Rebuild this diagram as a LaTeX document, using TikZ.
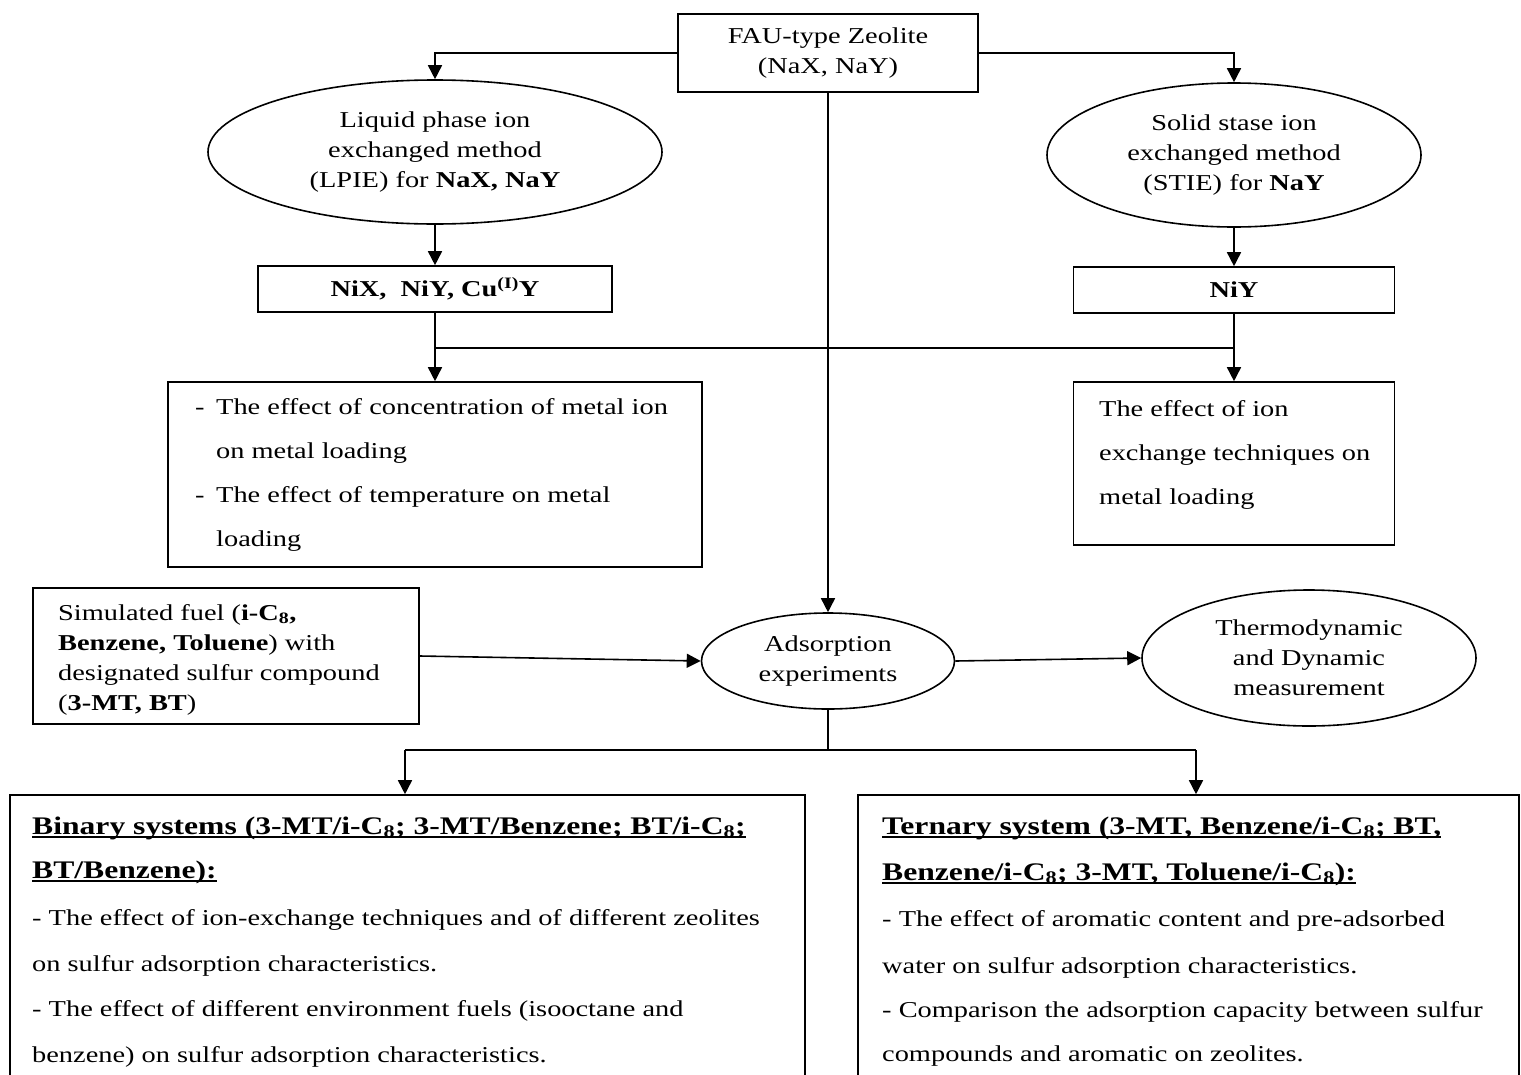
\documentclass[tikz,border=0pt]{standalone}
\usepackage{fontspec}
\setmainfont{Liberation Serif}[FakeStretch=1.25]
\usetikzlibrary{shapes.geometric,arrows.meta}
\newsavebox\hulbox
\newcommand\hul[1]{\sbox\hulbox{#1}\rlap{\rule[-4pt]{\wd\hulbox}{1.6pt}}\usebox\hulbox}
\newcommand\fs{\fontsize{22.7}{30}\selectfont}
\newcommand\fsh{\fontsize{25.3}{30}\selectfont\bfseries}
\begin{document}
\begin{tikzpicture}[x=1pt,y=-1pt,
  ln/.style={line width=1.6pt},
  arr/.style={line width=1.6pt,-{Triangle[length=14pt,width=14pt]}},
  box/.style={draw,line width=1.6pt,rectangle,inner sep=0pt,font=\fs,align=center},
  oval/.style={draw,line width=1.6pt,ellipse,inner sep=0pt,font=\fs,align=center},
  tl/.style={anchor=base west,inner sep=0pt,font=\fs},
  th/.style={anchor=base west,inner sep=0pt,font=\fsh}]
\useasboundingbox[fill=white] (0,0) rectangle (1521,1074);

% top
\node[box,minimum width=300pt,minimum height=78pt] (fau) at (828,53) {FAU-type Zeolite\\(NaX, NaY)};
\node[oval,minimum width=454pt,minimum height=144pt] (lpie) at (435,152) {Liquid phase ion\\exchanged method\\(LPIE) for \textbf{NaX, NaY}};
\node[oval,minimum width=374pt,minimum height=144pt] (stie) at (1234,155) {Solid stase ion\\exchanged method\\(STIE) for \textbf{NaY}};
\node[box,minimum width=354pt,minimum height=46pt] (nix) at (435,289) {\textbf{NiX,\ \ NiY, Cu\textsuperscript{(I)}Y}};
\node[box,minimum width=321pt,minimum height=46pt] (niy) at (1234,290) {\textbf{NiY}};

% effect boxes
\node[box,minimum width=534pt,minimum height=185pt] (lpeff) at (435,474.5) {};
\node[tl] (l1a) at (195,414) {-};
\node[tl] (l1) at (216,414) {The effect of concentration of metal ion};
\node[tl] (l2) at (216,458) {on metal loading};
\node[tl] (l3a) at (195,502) {-};
\node[tl] (l3) at (216,502) {The effect of temperature on metal};
\node[tl] (l4) at (216,546) {loading};

\node[box,minimum width=321pt,minimum height=163pt] (steff) at (1234,463.5) {};
\node[tl] (r1) at (1099,416) {The effect of ion};
\node[tl] (r2) at (1099,460) {exchange techniques on};
\node[tl] (r3) at (1099,504) {metal loading};

% middle
\node[box,minimum width=386pt,minimum height=136pt] (fuel) at (226,656) {};
\node[tl] (f1) at (58,620) {Simulated fuel (\textbf{i-C\textsubscript{8},}};
\node[tl] (f2) at (58,650) {\textbf{Benzene, Toluene}) with};
\node[tl] (f3) at (58,680) {designated sulfur compound};
\node[tl] (f4) at (58,710) {(\textbf{3-MT, BT})};

\node[oval,minimum width=253pt,minimum height=96pt] (ads) at (828,661) {Adsorption\\experiments};
\node[oval,minimum width=334pt,minimum height=136pt] (thermo) at (1309,658) {Thermodynamic\\and Dynamic\\measurement};

% bottom boxes
\node[box,minimum width=795pt,minimum height=287pt] (binary) at (407.5,938.5) {};
\node[th] (b1) at (32,834) {\hul{Binary systems (3-MT/i-C\textsubscript{8}; 3-MT/Benzene; BT/i-C\textsubscript{8};}};
\node[th] (b2) at (32,878) {\hul{BT/Benzene):}};
\node[tl] (b3) at (32,925) {- The effect of ion-exchange techniques and of different zeolites};
\node[tl] (b4) at (32,971) {on sulfur adsorption characteristics.};
\node[tl] (b5) at (32,1016) {- The effect of different environment fuels (isooctane and};
\node[tl] (b6) at (32,1062) {benzene) on sulfur adsorption characteristics.};

\node[box,minimum width=661pt,minimum height=287pt] (ternary) at (1188.5,938.5) {};
\node[th] (t1) at (882,834) {\hul{Ternary system (3-MT, Benzene/i-C\textsubscript{8}; BT,}};
\node[th] (t2) at (882,880) {\hul{Benzene/i-C\textsubscript{8}; 3-MT, Toluene/i-C\textsubscript{8}):}};
\node[tl] (t3) at (882,926) {- The effect of aromatic content and pre-adsorbed};
\node[tl] (t4) at (882,973) {water on sulfur adsorption characteristics.};
\node[tl] (t5) at (882,1017) {- Comparison the adsorption capacity between sulfur};
\node[tl] (t6) at (882,1061) {compounds and aromatic on zeolites.};

% connectors
\draw[arr] (fau.west) -| (lpie.north);
\draw[arr] (fau.east) -| (stie.north);
\draw[arr] (lpie.south) -- (nix.north);
\draw[arr] (stie.south) -- (niy.north);
\coordinate (jl) at (435,348);
\coordinate (jr) at (1234,348);
\draw[ln] (nix.south) -- (jl) -- (jr);
\draw[ln] (niy.south) -- (jr);
\draw[arr] (jl) -- (lpeff.north);
\draw[arr] (jr) -- (steff.north);
\draw[arr] (fau.south) -- (ads.north);
\draw[arr] (fuel.east) -- (ads.west);
\draw[arr] (ads.east) -- (thermo.west);
\coordinate (jb) at (828,750);
\coordinate (bl) at (405,750);
\coordinate (br) at (1196,750);
\draw[ln] (ads.south) -- (jb);
\draw[ln] (bl) -- (br);
\draw[arr] (bl) -- (bl |- binary.north);
\draw[arr] (br) -- (br |- ternary.north);
\end{tikzpicture}
\end{document}
